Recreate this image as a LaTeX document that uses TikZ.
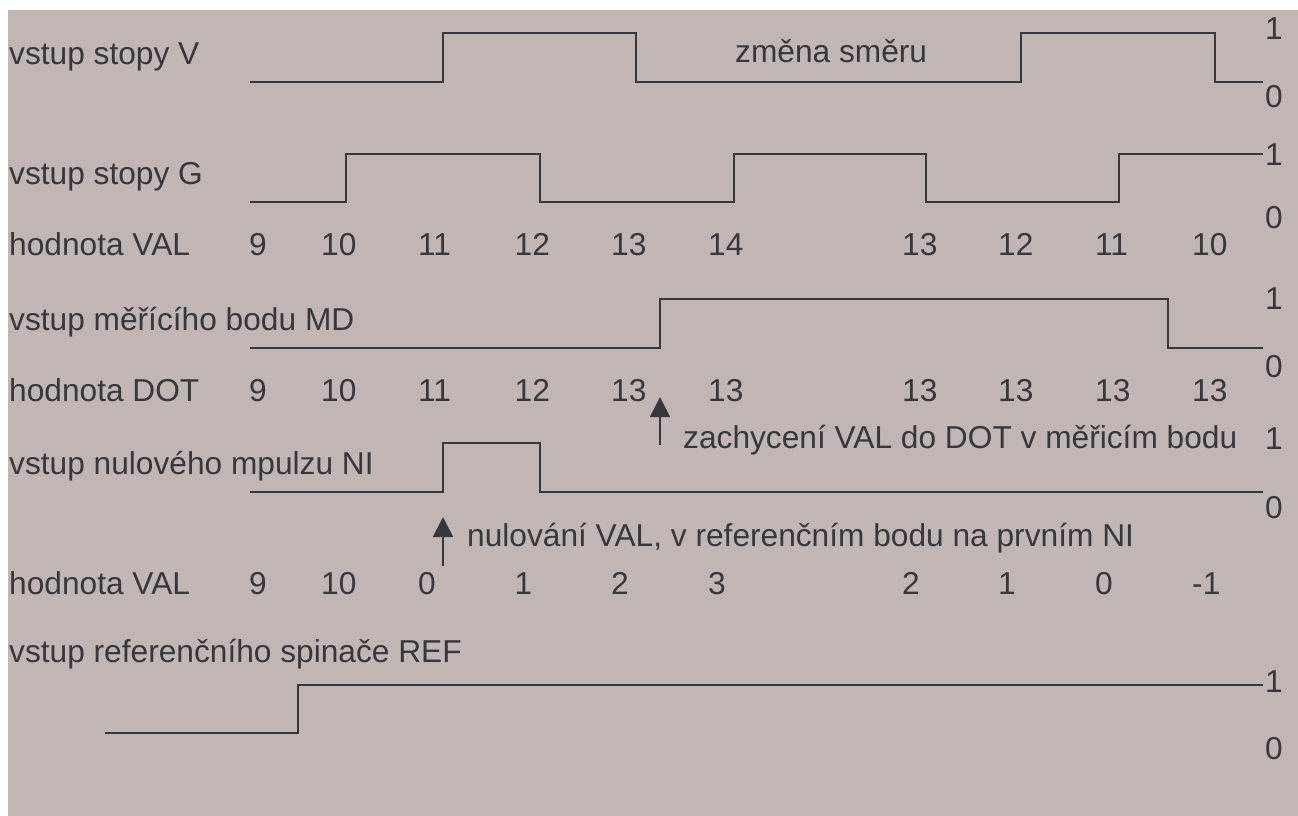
\documentclass[tikz,border=0pt]{standalone}
\usepackage{fontspec}
\setmainfont{Liberation Sans}
\usetikzlibrary{arrows.meta}
\definecolor{panel}{RGB}{192,182,179}
\definecolor{ink}{RGB}{56,55,60}
\tikzset{
  lbl/.style={anchor=base west,inner sep=0pt,text=ink,font=\fontsize{31.8}{36}\selectfont},
  lvl/.style={anchor=base,inner sep=0pt,text=ink,font=\fontsize{31.8}{36}\selectfont},
  wave/.style={draw=ink,line width=1.7bp,line join=miter},
  mark arrow/.style={draw=ink,line width=1.7bp,-{Triangle[width=20bp,length=20bp]}}
}
\begin{document}
\begin{tikzpicture}[x=1bp,y=-1bp]
\useasboundingbox (0,0) rectangle (1298,816);
\fill[panel] (8,10) rectangle (1298,816);

% signal names
\node[lbl] (nV)   at (9,65)  {vstup stopy V};
\node[lbl] (nG)   at (9,184) {vstup stopy G};
\node[lbl] (nVAL) at (9,255) {hodnota VAL};
\node[lbl] (nMD)  at (9,330) {vstup měřícího bodu MD};
\node[lbl] (nDOT) at (9,401) {hodnota DOT};
\node[lbl] (nNI)  at (9,474) {vstup nulového mpulzu NI};
\node[lbl] (nVAL2) at (9,594) {hodnota VAL};
\node[lbl] (nREF) at (9,662) {vstup referenčního spinače REF};

% waveforms
\draw[wave] (250,82) -- (443,82) -- (443,33) -- (636,33) -- (636,82) -- (1021,82)
  -- (1021,33) -- (1215,33) -- (1215,82) -- (1263,82);
\draw[wave] (250,202) -- (346,202) -- (346,154) -- (540,154) -- (540,202) -- (734,202)
  -- (734,154) -- (926,154) -- (926,202) -- (1119,202) -- (1119,154) -- (1263,154);
\draw[wave] (250,348) -- (660,348) -- (660,299) -- (1168,299) -- (1168,348) -- (1263,348);
\draw[wave] (250,492) -- (443,492) -- (443,443) -- (540,443) -- (540,492) -- (1263,492);
\draw[wave] (105,733) -- (298,733) -- (298,685) -- (1263,685);

% logic levels
\foreach \n/\y/\t in {a/40/1,b/108/0,c/165/1,d/228/0,e/309/1,f/377/0,g/449/1,h/518/0,i/692/1,j/759/0}
  \node[lvl] (lv\n) at (1274,\y) {\t};

% counter values
\foreach \n/\x/\t in {1/249/9,2/321/10,3/418/11,4/514.5/12,5/611/13,6/708/14,7/902/13,8/998/12,9/1095/11,10/1192/10}
  \node[lbl] (va\n) at (\x,255) {\t};
\foreach \n/\x/\t in {1/249/9,2/321/10,3/418/11,4/514.5/12,5/611/13,6/708/13,7/902/13,8/998/13,9/1095/13,10/1192/13}
  \node[lbl] (do\n) at (\x,401) {\t};
\foreach \n/\x/\t in {1/249/9,2/321/10,3/418/0,4/514.5/1,5/611/2,6/708/3,7/902/2,8/998/1,9/1095/0,10/1192/-1}
  \node[lbl] (vb\n) at (\x,594) {\t};

% annotations
\node[lbl] (dir) at (735,63) {změna směru};
\coordinate (cA0) at (660,445);
\coordinate (cA1) at (660,397);
\draw[mark arrow] (cA0) -- (cA1);
\node[lbl] (capt) at (683,448) {zachycení VAL do DOT v měřicím bodu};
\coordinate (cB0) at (443,566);
\coordinate (cB1) at (443,517);
\draw[mark arrow] (cB0) -- (cB1);
\node[lbl] (zero) at (467,546) {nulování VAL, v referenčním bodu na prvním NI};
\end{tikzpicture}
\end{document}
